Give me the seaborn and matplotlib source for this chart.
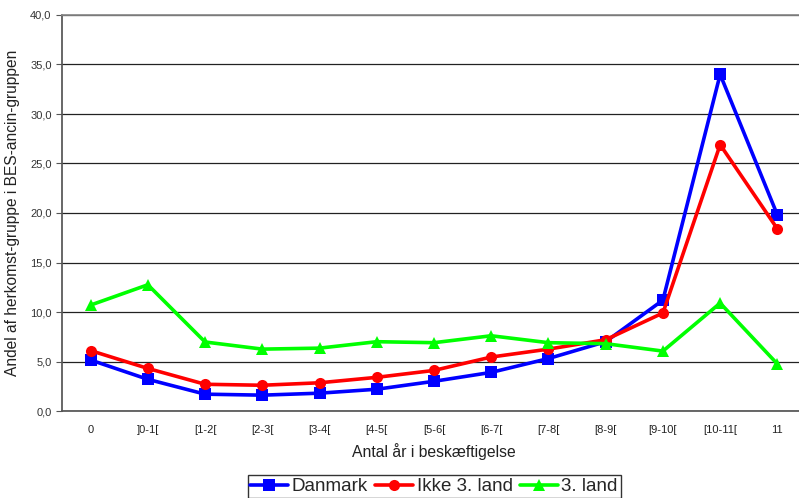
import matplotlib
matplotlib.use("Agg")
import matplotlib.pyplot as plt
import seaborn as sns
import pandas as pd
import numpy as np
from matplotlib.ticker import FixedLocator

categories = ["0", "]0-1[", "[1-2[", "[2-3[", "[3-4[", "[4-5[", "[5-6[", "[6-7[",
              "[7-8[", "[8-9[", "[9-10[", "[10-11[", "11"]
danmark = [5.15, 3.2, 1.7, 1.6, 1.8, 2.2, 3.0, 3.9, 5.3, 7.0, 11.2, 34.0, 19.8]
ikke3 = [6.1, 4.3, 2.7, 2.6, 2.85, 3.4, 4.1, 5.45, 6.25, 7.2, 9.9, 26.9, 18.4]
land3 = [10.7, 12.75, 6.97, 6.25, 6.35, 7.0, 6.9, 7.6, 6.9, 6.8, 6.05, 10.9, 4.75]
series_names = ["Danmark", "Ikke 3. land", "3. land"]
yticks = [0, 5, 10, 15, 20, 25, 30, 35, 40]

df = pd.DataFrame({
    "kategori": categories * 3,
    "andel": danmark + ikke3 + land3,
    "serie": [series_names[0]] * 13 + [series_names[1]] * 13 + [series_names[2]] * 13,
})

sns.set_theme(style="white")
plt.rcParams["font.family"] = ["Liberation Sans", "DejaVu Sans"]

fig = plt.figure(figsize=(7.99, 4.98), dpi=100)
ax = fig.add_axes([62 / 799, 1 - 411 / 498, (806 - 62) / 799, (411 - 15) / 498])

palette = {"Danmark": "#0000FF", "Ikke 3. land": "#FF0000", "3. land": "#00FF00"}
markers = {"Danmark": "s", "Ikke 3. land": "o", "3. land": "^"}
sns.lineplot(data=df, x="kategori", y="andel", hue="serie", style="serie",
             palette=palette, markers=markers, dashes=False, linewidth=2.6,
             markersize=8, markeredgewidth=0, ax=ax, sort=False, legend=True)

ax.set_ylim(0, 40)
ax.set_xlim(-0.5, 12.5)
ax.yaxis.set_major_locator(FixedLocator(yticks))
ax.set_yticklabels([f"{v:.1f}".replace(".", ",") for v in yticks])
ax.yaxis.grid(True, color="#222222", linewidth=0.9)
ax.xaxis.grid(False)
ax.set_xticks(range(13))
ax.set_xticklabels(categories)
ax.xaxis.set_minor_locator(FixedLocator(np.arange(-0.5, 13, 1.0)))
ax.tick_params(axis="x", which="major", length=0, labelsize=8, pad=10, colors="#222222")
ax.tick_params(axis="x", which="minor", length=4, width=0.8, color="#555555", direction="out")
ax.tick_params(axis="y", which="major", length=4, width=0.8, color="#555555",
               direction="out", labelsize=8, colors="#333333", left=True)
ax.spines["right"].set_visible(False)
ax.spines["top"].set_color("#888888")
ax.spines["left"].set_color("#555555")
ax.spines["bottom"].set_color("#555555")
ax.set_xlabel("Antal år i beskæftigelse", fontsize=11.3, color="#222222", labelpad=6)
ax.set_ylabel("Andel af herkomst-gruppe i BES-ancin-gruppen", fontsize=11.2, color="#222222", labelpad=7)

h, l = ax.get_legend_handles_labels()
leg = ax.legend(h, l, loc="upper center", bbox_to_anchor=(0.5, -0.162), ncol=3,
                fontsize=13.5, frameon=True, fancybox=False, edgecolor="black",
                handlelength=2.0, handletextpad=0.2, columnspacing=0.4,
                borderpad=0.15, borderaxespad=0)
leg.get_frame().set_linewidth(1.0)

fig.savefig("out.png", dpi=100)
